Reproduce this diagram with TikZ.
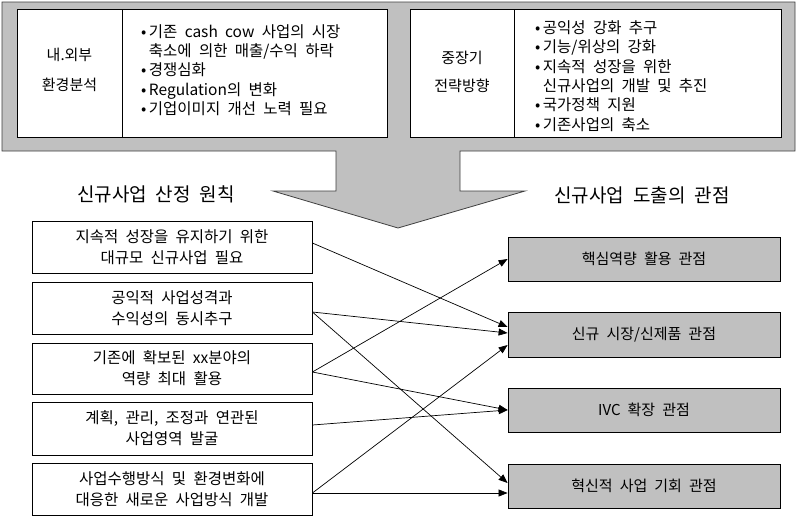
\documentclass[tikz,border=0pt]{standalone}
\usepackage{fontspec}
\setmainfont[WordSpace=2.1]{Noto Sans CJK KR}
\usetikzlibrary{arrows.meta,calc}
\definecolor{boxgray}{HTML}{C0C0C0}
\newcommand{\bul}{•\hspace{2.5pt}}
\newcommand{\bulsp}{\phantom{•}\hspace{2.5pt}}
\begin{document}
\begin{tikzpicture}[x=1pt,y=-1pt,
  lbox/.style={draw=black, line width=0.8pt, fill=white, minimum width=280pt, minimum height=52pt, align=center, inner sep=0pt, font=\fontsize{15.5}{21}\selectfont},
  rbox/.style={draw=black, line width=0.8pt, fill=boxgray, minimum width=272pt, minimum height=44pt, inner sep=0pt, font=\fontsize{15}{18}\selectfont},
  conn/.style={line width=0.7pt, -{Triangle[length=9pt,width=7pt]}},
  wbox/.style={draw=black, line width=0.8pt, fill=white},
  label/.style={font=\fontsize{15}{18}\selectfont, inner sep=0pt},
  blist/.style={font=\fontsize{15.5}{19.3}\selectfont, align=left, anchor=west, inner sep=0pt},
  title/.style={font=\fontsize{19}{22}\selectfont, inner sep=0pt}]
\useasboundingbox (0,0) rectangle (797,517);
\fill[white] (0,0) rectangle (797,517);
% gray frame with arrow
\draw[fill=boxgray, draw=black!75, line width=0.8pt]
  (2,2) -- (795,2) -- (795,151) -- (460,151) -- (460,191) -- (525,191) -- (398,228)
  -- (273,191) -- (336,191) -- (336,151) -- (2,151) -- cycle;
% top-left box
\draw[wbox] (17,9) rectangle (387,137);
\draw[line width=0.8pt] (122,9) -- (122,137);
\node[label] (env1) at (69.5,55) {내.외부};
\node[label] (env2) at (69.5,85) {환경분석};
\node[blist] (envlist) at (141,70) {\bul 기존 cash cow 사업의 시장\\\bulsp 축소에 의한 매출/수익 하락\\\bul 경쟁심화\\\bul Regulation의 변화\\\bul 기업이미지 개선 노력 필요};
% top-right box
\draw[wbox] (410,9) rectangle (781,137);
\draw[line width=0.8pt] (514,9) -- (514,137);
\node[label] (str1) at (462,58) {중장기};
\node[label] (str2) at (462,86) {전략방향};
\node[blist] (strlist) at (535,76) {\bul 공익성 강화 추구\\\bul 기능/위상의 강화\\\bul 지속적 성장을 위한\\\bulsp 신규사업의 개발 및 추진\\\bul 국가정책 지원\\\bul 기존사업의 축소};
% titles
\node[title] (ttl1) at (156,194) {신규사업 산정 원칙};
\node[title] (ttl2) at (642,195) {신규사업 도출의 관점};
% left boxes
\node[lbox] (L1) at (172,247) {지속적 성장을 유지하기 위한\\대규모 신규사업 필요};
\node[lbox] (L2) at (172,308) {공익적 사업성격과\\수익성의 동시추구};
\node[lbox, minimum height=51pt] (L3) at (172,368.5) {기존에 확보된 xx분야의\\역량 최대 활용};
\node[lbox, minimum height=53pt] (L4) at (172,428.5) {계획, 관리, 조정과 연관된\\사업영역 발굴};
\node[lbox] (L5) at (172,489) {사업수행방식 및 환경변화에\\대응한 새로운 사업방식 개발};
% right boxes
\node[rbox] (R1) at (644,259) {핵심역량 활용 관점};
\node[rbox, minimum height=45pt] (R2) at (644,334.5) {신규 시장/신제품 관점};
\node[rbox] (R3) at (644,410) {IVC 확장 관점};
\node[rbox] (R4) at (644,486) {혁신적 사업 기회 관점};
% connectors
\draw[conn] ($(L1.east)+(0,-4)$) -- ($(R2.west)+(0,-7.5)$);
\draw[conn] ($(L2.east)+(0,4)$) -- ($(R2.west)+(0,-1.5)$);
\draw[conn] ($(L2.east)+(0,4)$) -- ($(R4.west)+(0,-3)$);
\draw[conn] ($(L3.east)+(0,3.5)$) -- (R1.west);
\draw[conn] ($(L3.east)+(0,3.5)$) -- (R3.west);
\draw[conn] ($(L4.east)+(0,-3.5)$) -- (R3.west);
\draw[conn] ($(L5.east)+(0,4)$) -- ($(R2.west)+(0,10.5)$);
\draw[conn] ($(L5.east)+(0,4)$) -- ($(R4.west)+(0,7)$);
\end{tikzpicture}
\end{document}
